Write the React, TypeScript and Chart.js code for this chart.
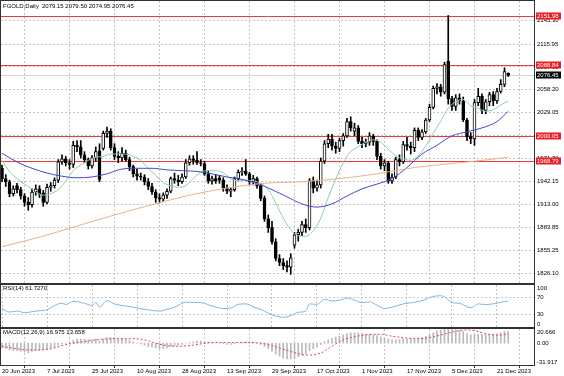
import React, { useEffect, useRef } from "react";
import { Chart, registerables } from "chart.js";

Chart.register(...registerables);

const FONT_FAMILY = '"Liberation Sans", Arial, sans-serif';
const GRID = "#c6c6c6";
const FRAME = "#333333";

// ---- candle data (daily, index 0 = 20 Jun 2023) ----
const opens = [
  1959, 1946, 1942, 1927, 1937, 1932, 1924, 1916, 1913, 1929, 1933, 1928, 1916, 1935, 1937, 1944, 1967, 1971, 1966, 1964,
  1988, 1986, 1976, 1970, 1962, 1972, 1981, 1984, 2003, 2006, 1985, 1974, 1972, 1978, 1970, 1961, 1952, 1949, 1948, 1942,
  1936, 1929, 1922, 1920, 1925, 1930, 1946, 1944, 1942, 1948, 1966, 1971, 1969, 1966, 1965, 1952, 1943, 1946, 1947, 1944,
  1934, 1930, 1932, 1946, 1954, 1955, 1952, 1942, 1946, 1937, 1921, 1895, 1884, 1866, 1845, 1840, 1836, 1834, 1862, 1875,
  1878, 1888, 1884, 1943, 1934, 1938, 1968, 1990, 1996, 1987, 1984, 1994, 2000, 2018, 2006, 2010, 1993, 1990, 1992, 2000,
  1993, 1974, 1962, 1966, 1943, 1948, 1970, 1967, 1989, 1987, 1985, 2007, 1998, 2005, 2020, 2036, 2060, 2062, 2055, 2094,
  2047, 2037, 2048, 2044, 2020, 1999, 1996, 2042, 2050, 2032, 2043, 2052, 2044, 2056, 2065, 2079.15,
];
const highs = [
  1963, 1951, 1944, 1937, 1940, 1935, 1927, 1922, 1933, 1938, 1937, 1931, 1939, 1941, 1947, 1970, 1976, 1974, 1970, 1993,
  1994, 1994, 1980, 1972, 1975, 1986, 1990, 2006, 2011, 2009, 1990, 1980, 1985, 1982, 1973, 1963, 1958, 1953, 1951, 1946,
  1940, 1932, 1927, 1928, 1933, 1948, 1953, 1950, 1952, 1970, 1975, 1975, 1980, 1970, 1968, 1956, 1949, 1951, 1950, 1947,
  1938, 1934, 1948, 1957, 1960, 1970, 1954, 1950, 1948, 1940, 1924, 1900, 1892, 1870, 1850, 1845, 1842, 1851, 1878, 1882,
  1892, 1895, 1946, 1948, 1944, 1972, 1994, 2002, 2002, 1992, 1997, 2003, 2022, 2024, 2016, 2013, 1998, 1996, 2004, 2002,
  1995, 1978, 1970, 1968, 1952, 1973, 1976, 1993, 1998, 1992, 2010, 2010, 2008, 2022, 2040, 2063, 2066, 2065, 2093, 2151.98,
  2050, 2052, 2053, 2049, 2022, 2004, 2046, 2060, 2053, 2046, 2055, 2056, 2060, 2071, 2086, 2079.5,
];
const lows = [
  1942, 1936, 1923, 1924, 1928, 1920, 1911, 1906, 1910, 1925, 1922, 1911, 1914, 1930, 1934, 1941, 1964, 1962, 1958, 1960,
  1980, 1972, 1966, 1958, 1959, 1968, 1942, 1982, 1998, 1982, 1970, 1966, 1968, 1968, 1956, 1948, 1944, 1944, 1938, 1932,
  1926, 1916, 1915, 1917, 1921, 1928, 1940, 1937, 1940, 1946, 1963, 1964, 1964, 1962, 1950, 1940, 1939, 1940, 1940, 1930,
  1927, 1923, 1930, 1944, 1950, 1950, 1938, 1938, 1934, 1918, 1892, 1878, 1863, 1842, 1836, 1831, 1828, 1825, 1858, 1867,
  1874, 1878, 1881, 1928, 1930, 1934, 1965, 1985, 1982, 1978, 1980, 1987, 1998, 2006, 2000, 1990, 1985, 1986, 1988, 1988,
  1970, 1958, 1956, 1940, 1940, 1946, 1962, 1965, 1982, 1977, 1980, 1994, 1995, 2003, 2018, 2034, 2053, 2050, 2053, 2040,
  2032, 2032, 2040, 2018, 1994, 1990, 1988, 2038, 2028, 2028, 2038, 2038, 2041, 2054, 2062, 2074.95,
];
const closes = [
  1946, 1942, 1927, 1933, 1932, 1924, 1916, 1913, 1929, 1933, 1926, 1916, 1935, 1937, 1944, 1967, 1971, 1966, 1964, 1988,
  1986, 1976, 1970, 1962, 1972, 1980, 1945, 2003, 2006, 1985, 1974, 1972, 1978, 1970, 1961, 1952, 1949, 1948, 1942, 1936,
  1929, 1922, 1920, 1925, 1930, 1946, 1944, 1942, 1948, 1966, 1971, 1969, 1966, 1965, 1952, 1943, 1946, 1943, 1944, 1934,
  1930, 1932, 1946, 1954, 1955, 1952, 1942, 1946, 1937, 1921, 1895, 1884, 1866, 1845, 1840, 1836, 1834, 1846, 1875, 1878,
  1888, 1884, 1943, 1934, 1938, 1968, 1990, 1996, 1987, 1984, 1994, 2000, 2018, 2010, 2010, 1993, 1990, 1992, 2000, 1993,
  1974, 1962, 1966, 1943, 1948, 1970, 1967, 1989, 1987, 1985, 2007, 1998, 2005, 2020, 2036, 2060, 2062, 2055, 2090, 2047,
  2037, 2048, 2044, 2020, 1999, 1996, 2042, 2050, 2032, 2043, 2052, 2044, 2056, 2065, 2081, 2076.45,
];

// ---- axes / labels ----
const dateTickIdx = [0, 12, 24, 36, 48, 60, 72, 84, 96, 108, 120, 132];
const dateTickLabels = [
  "20 Jun 2023", "7 Jul 2023", "25 Jul 2023", "10 Aug 2023", "28 Aug 2023", "13 Sep 2023",
  "29 Sep 2023", "17 Oct 2023", "1 Nov 2023", "17 Nov 2023", "5 Dec 2023", "21 Dec 2023",
];
const priceTicks = [2145.3, 2115.95, 2087.05, 2058.2, 2029.05, 1999.9, 1971.3, 1942.15, 1913.0, 1883.85, 1855.25, 1826.1];
const levelLines = [2151.98, 2088.84, 2000.05, 1968.79];
const lastPrice = 2076.45;
const titleText = "FGOLD,Daily  2079.15 2079.50 2074.95 2076.45";

// ---- moving averages ----
const maFastIdx = [0, 2, 4, 6, 8, 9, 11, 13, 15, 17, 19, 21, 23, 25, 27, 29, 31, 33, 35, 37, 39, 41, 43, 45, 47, 49, 51, 53, 55, 57, 59, 61, 63, 65, 67, 69, 71, 73, 75, 77, 79, 81, 83, 85, 87, 89, 91, 93, 95, 97, 99, 101, 103, 105, 107, 109, 111, 113, 115, 117, 119, 121, 123, 125, 127, 129, 131, 133, 135];
const maFastVals = [1969, 1955, 1946, 1939, 1933, 1929, 1925, 1927, 1932, 1943, 1956, 1963, 1969, 1973, 1974, 1977, 1977, 1977, 1974, 1969, 1959, 1950, 1941, 1937, 1935, 1937, 1946, 1954, 1956, 1956, 1953, 1946, 1943, 1944, 1943, 1940, 1932, 1915, 1896, 1881, 1874, 1873, 1880, 1896, 1922, 1945, 1966, 1980, 1986, 1992, 1995, 1992, 1983, 1975, 1971, 1969, 1975, 1987, 2003, 2019, 2035, 2043, 2046, 2038, 2035, 2031, 2033, 2039, 2044];
const maMidIdx = [0, 4, 8, 12, 16, 20, 24, 28, 32, 36, 40, 44, 48, 52, 56, 60, 64, 68, 72, 76, 80, 84, 88, 92, 96, 100, 104, 108, 112, 116, 120, 124, 128, 132, 135];
const maMidVals = [1978, 1967, 1959, 1953, 1949, 1947, 1948, 1952, 1958, 1959, 1959, 1957, 1956, 1955, 1952, 1948, 1945, 1940, 1932, 1923, 1914, 1910, 1914, 1924, 1933, 1939, 1946, 1960, 1977, 1988, 2000, 2005, 2010, 2018, 2031];
const maSlowIdx = [0, 10, 20, 30, 40, 50, 60, 70, 80, 90, 100, 110, 120, 130, 135];
const maSlowVals = [1860, 1872, 1886, 1900, 1913, 1925, 1934, 1940, 1942, 1946, 1952, 1960, 1965, 1970, 1973];

// ---- RSI(14) ----
const rsiTitle = "RSI(14) 61.7270";
const rsiIdx = [0, 2, 4, 6, 9, 12, 14, 16, 17, 19, 22, 24, 25, 26, 28, 30, 32, 35, 38, 40, 42, 44, 46, 49, 53, 56, 59, 61, 63, 65, 67, 69, 71, 73, 75, 77, 79, 81, 82, 84, 86, 88, 90, 92, 94, 96, 98, 100, 102, 104, 107, 110, 112, 115, 117, 118, 120, 122, 125, 127, 129, 131, 133, 135];
const rsiVals = [43.5, 35.6, 38, 34.2, 37.9, 41.2, 51.2, 56.5, 53.5, 61, 56.5, 51.2, 58.8, 47.2, 62.8, 55.1, 51.2, 47.2, 42, 39.5, 37.9, 42, 47.2, 58.8, 58.1, 50, 44, 45, 54, 55, 48, 42, 33, 26, 23, 27, 35, 38, 55, 54, 66, 62, 64, 69, 64, 58, 60, 52, 44, 47, 55, 58.8, 62.8, 72.8, 74.4, 72, 58, 56.5, 45.8, 55.1, 53.5, 55.1, 58.8, 61.727];

// ---- MACD(12,26,9) ----
const macdTitle = "MACD(12,26,9) 16.975 13.658";
const macdMain = [
  -7, -8, -10, -11, -11, -12, -13, -14, -12, -11, -10, -10, -9, -8, -6, -3, -1, 0, 1, 4,
  6, 6, 6, 5, 5, 6, 3, 6, 8, 8, 8, 7, 7, 6, 4, 2, 0, -1, -3, -5,
  -6, -7, -8, -8, -7, -5, -4, -3, -2, 0, 1, 2, 3, 3, 2, 1, 1, 0, 0, -1,
  -2, -2, -1, 0, 1, 2, 1, 1, 0, -2, -5, -8, -12, -16, -19, -22, -23, -23, -22, -20,
  -18, -16, -11, -8, -6, -2, 2, 5, 7, 9, 10, 12, 14, 15, 15, 15, 14, 13, 13, 12,
  11, 9, 7, 6, 5, 5, 5, 6, 6, 7, 7, 7, 8, 10, 12, 15, 18, 19, 22, 22,
  21, 20, 19, 17, 14, 12, 13, 13, 13, 13, 13, 13, 14, 15, 17, 16.975,
];
const signalIdx = [0, 5, 8, 13, 17, 22, 26, 31, 35, 38, 41, 44, 47, 51, 56, 65, 70, 74, 78, 81, 85, 88, 91, 94, 97, 101, 104, 110, 112, 115, 119, 122, 124, 127, 129, 132, 135];
const signalVals = [-4.5, -9.1, -10, -8.3, -2.2, 2.3, 5.5, 6.5, 6.5, 4.7, 0, -3.6, -4.5, -3, 1, 1, -0.8, -6.9, -13.8, -17.4, -14.6, -4.5, 4.7, 9.2, 12, 12.9, 10.2, 6.9, 6.9, 9.2, 14.7, 18.4, 19.3, 17, 13.8, 11.6, 13.658];
const macdMax = 20.666;
const macdMin = -31.917;

const X_MIN = -0.27;
const X_MAX = 141.87;

const pts = (idx: number[], vals: number[]) => idx.map((x, i) => ({ x, y: vals[i] }));

function xAxis(withLabels: boolean): any {
  return {
    type: "linear",
    min: X_MIN,
    max: X_MAX,
    offset: false,
    grid: { color: GRID, lineWidth: 1, drawTicks: withLabels, tickLength: 3, tickColor: FRAME },
    border: { display: false, dash: [2, 2] },
    ticks: withLabels
      ? {
          display: true,
          autoSkip: false,
          maxRotation: 0,
          align: "start",
          padding: 0,
          color: "#000",
          font: { family: FONT_FAMILY, size: 6 },
          callback: (_v: any, i: number) => dateTickLabels[i],
        }
      : { display: false },
    afterBuildTicks: (s: any) => {
      s.ticks = dateTickIdx.map((v) => ({ value: v }));
    },
    afterFit: (s: any) => {
      s.height = withLabels ? 11 : 0;
      s.paddingLeft = 0;
      s.paddingRight = 0;
      s.paddingTop = 0;
      s.paddingBottom = 0;
    },
  };
}

function fixY(s: any) {
  s.width = 30;
  s.paddingTop = 0;
  s.paddingBottom = 0;
  s.paddingLeft = 0;
  s.paddingRight = 0;
}

function drawFrame(chart: any) {
  const { ctx, chartArea: a } = chart;
  ctx.save();
  ctx.strokeStyle = FRAME;
  ctx.lineWidth = 1;
  ctx.strokeRect(a.left - 0.5, a.top - 0.5, a.right - a.left + 1, a.bottom - a.top + 1);
  ctx.restore();
}

function drawText(ctx: any, text: string, x: number, y: number, color = "#000", align = "left") {
  ctx.save();
  ctx.font = `6px ${FONT_FAMILY}`;
  ctx.fillStyle = color;
  ctx.textAlign = align;
  ctx.textBaseline = "middle";
  ctx.fillText(text, x, y);
  ctx.restore();
}

const mainPlugin = {
  id: "mainDecor",
  beforeDatasetsDraw(chart: any) {
    const { ctx, chartArea: a, scales } = chart;
    ctx.save();
    ctx.beginPath();
    ctx.rect(a.left, a.top, a.right - a.left, a.bottom - a.top);
    ctx.clip();
    ctx.lineWidth = 1;
    ctx.setLineDash([]);
    const yb = Math.round(scales.y.getPixelForValue(lastPrice)) + 0.5;
    ctx.strokeStyle = "#d4d4d4";
    ctx.beginPath();
    ctx.moveTo(a.left, yb);
    ctx.lineTo(a.right, yb);
    ctx.stroke();
    levelLines.forEach((lv) => {
      const y = Math.round(scales.y.getPixelForValue(lv)) + 0.5;
      ctx.strokeStyle = "#f03a3a";
      ctx.beginPath();
      ctx.moveTo(a.left, y);
      ctx.lineTo(a.right, y);
      ctx.stroke();
    });
    ctx.restore();
  },
  afterDraw(chart: any) {
    const { ctx, chartArea: a, scales } = chart;
    drawFrame(chart);
    const box = (v: number, fill: string) => {
      const y = Math.round(scales.y.getPixelForValue(v));
      ctx.save();
      ctx.fillStyle = fill;
      ctx.fillRect(a.right + 2, y - 3.5, 25, 7);
      ctx.restore();
      drawText(ctx, v.toFixed(2), a.right + 3, y + 0.5, "#fff");
    };
    levelLines.forEach((lv) => box(lv, "#ec1c24"));
    box(lastPrice, "#000");
    drawText(ctx, titleText, a.left + 2, a.top + 5);
  },
};

const rsiPlugin = {
  id: "rsiDecor",
  afterDraw(chart: any) {
    const { ctx, chartArea: a, scales } = chart;
    drawFrame(chart);
    drawText(ctx, rsiTitle, a.left + 2, a.top + 3);
    [100, 70, 30, 0].forEach((v) => {
      let y = scales.y.getPixelForValue(v);
      y = Math.min(Math.max(y, a.top + 3), a.bottom - 3);
      drawText(ctx, String(v), a.right + 3, y);
    });
  },
};

const macdPlugin = {
  id: "macdDecor",
  afterDraw(chart: any) {
    const { ctx, chartArea: a, scales } = chart;
    drawFrame(chart);
    drawText(ctx, macdTitle, a.left + 2, a.top + 3);
    const labels: [number, string][] = [
      [macdMax, macdMax.toFixed(3)],
      [0, "0.00"],
      [macdMin, macdMin.toFixed(3)],
    ];
    labels.forEach(([v, t]) => {
      let y = scales.y.getPixelForValue(v);
      y = Math.min(Math.max(y, a.top + 3), a.bottom - 3);
      drawText(ctx, t, a.right + 3, y);
    });
  },
};

export default function App() {
  const mainRef = useRef<HTMLCanvasElement>(null);
  const rsiRef = useRef<HTMLCanvasElement>(null);
  const macdRef = useRef<HTMLCanvasElement>(null);

  useEffect(() => {
    const charts: Chart[] = [];
    const common: any = {
      animation: false,
      responsive: false,
      maintainAspectRatio: false,
      devicePixelRatio: 1,
      events: [],
    };
    const noPlugins = { legend: { display: false }, tooltip: { enabled: false } };

    const wicks = highs.map((h, i) => ({ x: i, y: [lows[i], h] }));
    const bodies = opens.map((o, i) => ({ x: i, y: [o, closes[i]] }));
    const bodyFill = opens.map((o, i) => (closes[i] >= o ? "#ffffff" : "#000000"));

    charts.push(
      new Chart(mainRef.current as HTMLCanvasElement, {
        type: "bar",
        data: {
          datasets: [
            {
              type: "line",
              data: pts(maSlowIdx, maSlowVals),
              borderColor: "#eab08a",
              borderWidth: 1,
              pointRadius: 0,
              cubicInterpolationMode: "monotone",
              order: 1,
            } as any,
            {
              type: "line",
              data: pts(maMidIdx, maMidVals),
              borderColor: "#4646d2",
              borderWidth: 1,
              pointRadius: 0,
              cubicInterpolationMode: "monotone",
              order: 1,
            } as any,
            {
              type: "line",
              data: pts(maFastIdx, maFastVals),
              borderColor: "#8ccfa4",
              borderWidth: 1,
              pointRadius: 0,
              cubicInterpolationMode: "monotone",
              order: 1,
            } as any,
            {
              type: "bar",
              data: wicks,
              backgroundColor: "#000",
              barThickness: 1,
              grouped: false,
              order: 3,
            } as any,
            {
              type: "bar",
              data: bodies,
              backgroundColor: bodyFill,
              borderColor: "#000",
              borderWidth: 1,
              borderSkipped: false,
              barThickness: 3,
              grouped: false,
              order: 2,
            } as any,
          ],
        },
        options: {
          ...common,
          layout: { padding: { left: 1, top: 1, right: 0, bottom: 93 } },
          plugins: noPlugins,
          scales: {
            x: xAxis(false),
            y: {
              position: "right",
              min: 1814.1,
              max: 2170.3,
              grid: { color: GRID, lineWidth: 1, drawTicks: false },
              border: { display: false, dash: [2, 2] },
              ticks: {
                autoSkip: false,
                color: "#000",
                padding: 3,
                font: { family: FONT_FAMILY, size: 6 },
                callback: (v: any) => Number(v).toFixed(2),
              },
              afterBuildTicks: (s: any) => {
                s.ticks = priceTicks.map((v) => ({ value: v }));
              },
              afterFit: fixY,
            },
          },
        } as any,
        plugins: [mainPlugin],
      })
    );

    charts.push(
      new Chart(rsiRef.current as HTMLCanvasElement, {
        type: "line",
        data: {
          datasets: [
            {
              data: pts(rsiIdx, rsiVals),
              borderColor: "#82b4e4",
              borderWidth: 1,
              pointRadius: 0,
              cubicInterpolationMode: "monotone",
            },
          ],
        },
        options: {
          ...common,
          layout: { padding: { left: 1, top: 285, right: 0, bottom: 49 } },
          plugins: noPlugins,
          scales: {
            x: xAxis(false),
            y: {
              position: "right",
              min: 0,
              max: 100,
              grid: { color: GRID, lineWidth: 1, drawTicks: false },
              border: { display: false, dash: [2, 2] },
              ticks: { display: false },
              afterBuildTicks: (s: any) => {
                s.ticks = [30, 70].map((v) => ({ value: v }));
              },
              afterFit: fixY,
            },
          },
        } as any,
        plugins: [rsiPlugin],
      })
    );

    charts.push(
      new Chart(macdRef.current as HTMLCanvasElement, {
        type: "bar",
        data: {
          datasets: [
            {
              type: "line",
              data: pts(signalIdx, signalVals),
              borderColor: "#e24a4a",
              borderWidth: 1,
              borderDash: [2, 2],
              pointRadius: 0,
              cubicInterpolationMode: "monotone",
              order: 1,
            } as any,
            {
              type: "bar",
              data: macdMain.map((v, i) => ({ x: i, y: v })),
              backgroundColor: "#b9b9b9",
              barThickness: 1,
              grouped: false,
              order: 2,
            } as any,
          ],
        },
        options: {
          ...common,
          layout: { padding: { left: 1, top: 329, right: 0, bottom: 0 } },
          plugins: noPlugins,
          scales: {
            x: xAxis(true),
            y: {
              position: "right",
              min: macdMin,
              max: macdMax,
              grid: { display: false },
              border: { display: false },
              ticks: { display: false },
              afterFit: fixY,
            },
          },
        } as any,
        plugins: [macdPlugin],
      })
    );

    return () => charts.forEach((c) => c.destroy());
  }, []);

  const cs: React.CSSProperties = { position: "absolute", left: 0, top: 0, width: 564, height: 376 };
  return (
    <div style={{ position: "fixed", left: 0, top: 0, width: 564, height: 376, background: "#fff" }}>
      <canvas ref={mainRef} width={564} height={376} style={cs} />
      <canvas ref={rsiRef} width={564} height={376} style={cs} />
      <canvas ref={macdRef} width={564} height={376} style={cs} />
    </div>
  );
}
